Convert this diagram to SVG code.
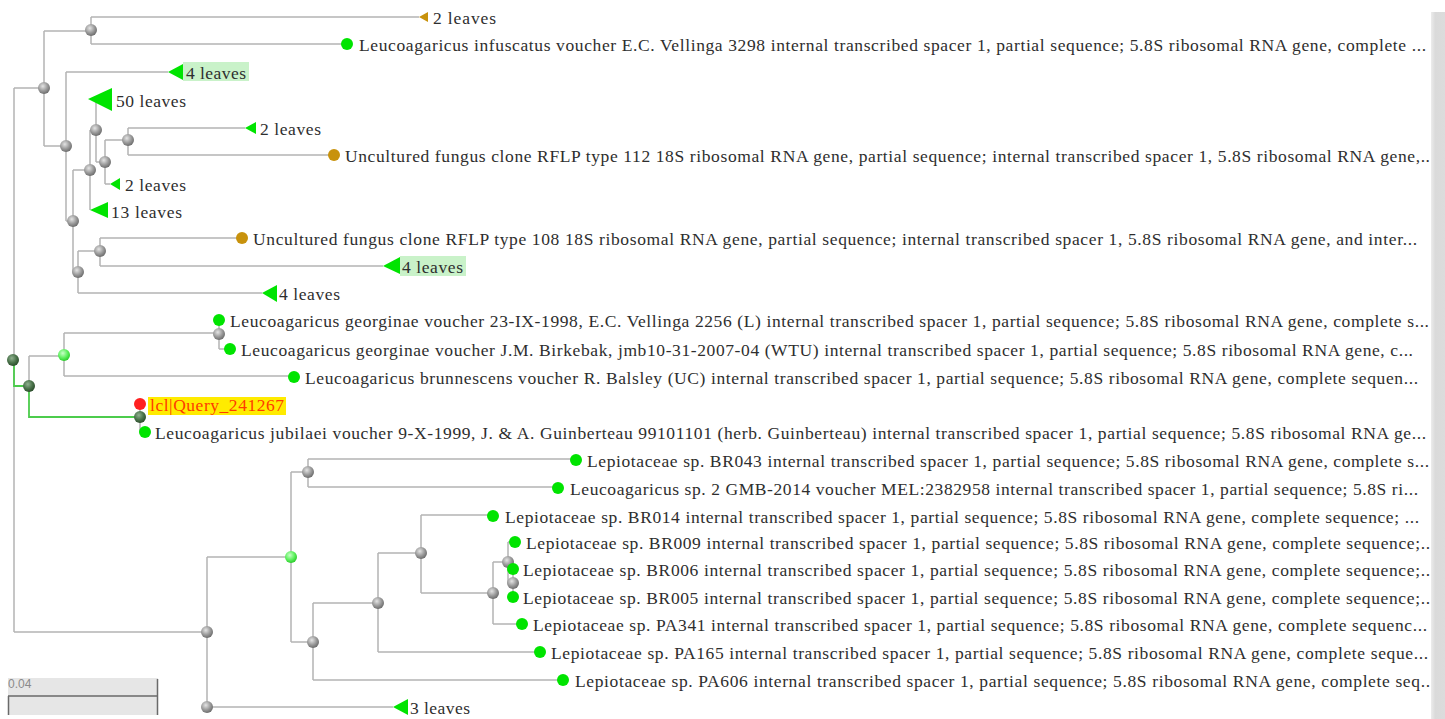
<svg xmlns="http://www.w3.org/2000/svg" width="1445" height="719" viewBox="0 0 1445 719">
<defs>
<radialGradient id="gGray" cx="40%" cy="35%" r="65%"><stop offset="0" stop-color="#e4e4e4"/><stop offset="0.6" stop-color="#9a9a9a"/><stop offset="1" stop-color="#6e6e6e"/></radialGradient>
<radialGradient id="gDark" cx="40%" cy="35%" r="65%"><stop offset="0" stop-color="#8fb08f"/><stop offset="0.6" stop-color="#4a724a"/><stop offset="1" stop-color="#2c4e2c"/></radialGradient>
<radialGradient id="gLight" cx="40%" cy="35%" r="65%"><stop offset="0" stop-color="#c8ffc8"/><stop offset="0.6" stop-color="#5ef05e"/><stop offset="1" stop-color="#2ccc2c"/></radialGradient>
<linearGradient id="gScroll" x1="0" x2="1" y1="0" y2="0"><stop offset="0" stop-color="#ececec"/><stop offset="0.3" stop-color="#dadada"/><stop offset="1" stop-color="#dcdcdc"/></linearGradient>
<style>
.ln{stroke:#b4b4b4;stroke-width:1.5;fill:none}
.gl{stroke:#4ccc4c;stroke-width:1.8;fill:none}
.lbl{font-family:"Liberation Serif","Times New Roman",serif;font-size:17.5px;fill:#2e2e2e}
.in{fill:url(#gGray)}
.dk{fill:url(#gDark)}
.lt{fill:url(#gLight)}
.lf{fill:#00e400}
.br{fill:#c8920c}
.hlg{fill:#c9f2c9}
</style>
</defs>
<rect x="0" y="0" width="1445" height="719" fill="#ffffff"/>
<rect x="1431" y="12" width="14" height="707" fill="url(#gScroll)"/>

<g id="connectors">
<path class="ln" d="M14 88 V632 M14 88 H44 M14 632 H207
M44 31 V146 M44 31 H91 M44 146 H66
M91 17 V44 M91 17 H419 M91 44 H346
M66 72 V221 M66 72 H168 M66 221 H73
M73 170 V272 M73 170 H90 M73 272 H78
M90 130 V210 M90 130 H96
M96 100 V162 M96 162 H105
M105 140 V184 M105 140 H128 M105 184 H110
M128 128 V155 M128 128 H245 M128 155 H333
M78 251 V293 M78 251 H100 M78 293 H262
M100 238 V266 M100 238 H242 M100 266 H383
M29 356 V386 M29 356 H64
M64 333 V376 M64 333 H219 M64 376 H294
M219 320 V349 M219 349 H230
M140 404 V432 M140 432 H145
M207 557 V707 M207 557 H291 M207 707 H393
M291 472 V642 M291 472 H308 M291 642 H313
M308 459 V487 M308 459 H576 M308 487 H557
M313 603 V680 M313 603 H378 M313 680 H563
M378 553 V652 M378 553 H421 M378 652 H540
M421 515 V593 M421 515 H493 M421 593 H493
M493 562 V624 M493 562 H508 M493 624 H522
M508 542 V583 M508 542 H514 M508 583 H513
M513 569 V597"/>
<path class="gl" d="M14 360 V386 H29 V417 H140"/>
</g>

<!-- internal nodes -->
<g id="node-root"><circle class="dk" cx="13" cy="360" r="6"/></g>
<g id="node-A"><circle class="in" cx="44" cy="88" r="6"/></g>
<g id="node-B"><circle class="in" cx="91" cy="30" r="6"/></g>
<g id="node-C"><circle class="in" cx="66" cy="146" r="6"/></g>
<g id="node-D"><circle class="in" cx="73" cy="221" r="6"/></g>
<g id="node-E"><circle class="in" cx="90" cy="170" r="6"/></g>
<g id="node-G"><circle class="in" cx="96" cy="130" r="6"/></g>
<g id="node-H"><circle class="in" cx="105" cy="162" r="6"/></g>
<g id="node-I"><circle class="in" cx="128" cy="140" r="6"/></g>
<g id="node-F"><circle class="in" cx="78" cy="272" r="6"/></g>
<g id="node-J"><circle class="in" cx="100" cy="251" r="6"/></g>
<g id="node-L"><circle class="dk" cx="29" cy="386" r="6"/></g>
<g id="node-M"><circle class="lt" cx="64" cy="355" r="6"/></g>
<g id="node-O"><circle class="in" cx="219" cy="334" r="6"/></g>
<g id="node-N"><circle class="dk" cx="140" cy="417" r="6"/></g>
<g id="node-K"><circle class="in" cx="207" cy="632" r="6"/></g>
<g id="node-K2"><circle class="in" cx="207" cy="707" r="6"/></g>
<g id="node-P"><circle class="lt" cx="291" cy="557" r="6"/></g>
<g id="node-Q"><circle class="in" cx="308" cy="472" r="6"/></g>
<g id="node-R"><circle class="in" cx="313" cy="642" r="6"/></g>
<g id="node-S"><circle class="in" cx="378" cy="603" r="6"/></g>
<g id="node-T"><circle class="in" cx="421" cy="553" r="6"/></g>
<g id="node-U"><circle class="in" cx="493" cy="593" r="6"/></g>
<g id="node-V"><circle class="in" cx="508" cy="562" r="6"/></g>
<g id="node-W"><circle class="in" cx="513" cy="583" r="6"/></g>

<!-- collapsed subtrees -->
<g id="leaf-2leaves-a"><polygon class="br" points="419,17 428,12 428,22"/><text class="lbl" x="433" y="24" textLength="63" lengthAdjust="spacing">2 leaves</text></g>
<g id="leaf-4leaves-a"><rect class="hlg" x="183" y="62" width="66" height="19"/><polygon class="lf" points="168,72 183,64 183,80"/><text class="lbl" x="186" y="79" textLength="60" lengthAdjust="spacing">4 leaves</text></g>
<g id="leaf-50leaves"><polygon class="lf" points="88,99 112,88 112,111"/><text class="lbl" x="116" y="107" textLength="70" lengthAdjust="spacing">50 leaves</text></g>
<g id="leaf-2leaves-b"><polygon class="lf" points="245,128 256,122 256,134"/><text class="lbl" x="260" y="135" textLength="61" lengthAdjust="spacing">2 leaves</text></g>
<g id="leaf-2leaves-c"><polygon class="lf" points="110,184 120,178 120,190"/><text class="lbl" x="125" y="191" textLength="61" lengthAdjust="spacing">2 leaves</text></g>
<g id="leaf-13leaves"><polygon class="lf" points="90,210 108,202 108,218"/><text class="lbl" x="111" y="218" textLength="71" lengthAdjust="spacing">13 leaves</text></g>
<g id="leaf-4leaves-b"><rect class="hlg" x="400" y="256" width="66" height="20"/><polygon class="lf" points="383,266 400,257 400,274"/><text class="lbl" x="402" y="273" textLength="61" lengthAdjust="spacing">4 leaves</text></g>
<g id="leaf-4leaves-c"><polygon class="lf" points="262,293 277,285 277,302"/><text class="lbl" x="279" y="300" textLength="61" lengthAdjust="spacing">4 leaves</text></g>
<g id="leaf-3leaves"><polygon class="lf" points="393,707 408,699 408,715"/><text class="lbl" x="410" y="714" textLength="60" lengthAdjust="spacing">3 leaves</text></g>

<!-- leaves -->
<g id="leaf-infuscatus"><circle class="lf" cx="347" cy="44" r="6"/><text class="lbl" x="359" y="51" textLength="1067" lengthAdjust="spacing">Leucoagaricus infuscatus voucher E.C. Vellinga 3298 internal transcribed spacer 1, partial sequence; 5.8S ribosomal RNA gene, complete ...</text></g>
<g id="leaf-unc112"><circle class="br" cx="334" cy="155" r="6"/><text class="lbl" x="345" y="162" textLength="1085" lengthAdjust="spacing">Uncultured fungus clone RFLP type 112 18S ribosomal RNA gene, partial sequence; internal transcribed spacer 1, 5.8S ribosomal RNA gene,..</text></g>
<g id="leaf-unc108"><circle class="br" cx="242" cy="238" r="6"/><text class="lbl" x="253" y="245" textLength="1164" lengthAdjust="spacing">Uncultured fungus clone RFLP type 108 18S ribosomal RNA gene, partial sequence; internal transcribed spacer 1, 5.8S ribosomal RNA gene, and inter...</text></g>
<g id="leaf-georginae1"><circle class="lf" cx="219" cy="320" r="6"/><text class="lbl" x="230" y="327" textLength="1199" lengthAdjust="spacing">Leucoagaricus georginae voucher 23-IX-1998, E.C. Vellinga 2256 (L) internal transcribed spacer 1, partial sequence; 5.8S ribosomal RNA gene, complete s...</text></g>
<g id="leaf-georginae2"><circle class="lf" cx="230" cy="349" r="6"/><text class="lbl" x="241" y="356" textLength="1172" lengthAdjust="spacing">Leucoagaricus georginae voucher J.M. Birkebak, jmb10-31-2007-04 (WTU) internal transcribed spacer 1, partial sequence; 5.8S ribosomal RNA gene, c...</text></g>
<g id="leaf-brunnescens"><circle class="lf" cx="294" cy="377" r="6"/><text class="lbl" x="305" y="384" textLength="1113" lengthAdjust="spacing">Leucoagaricus brunnescens voucher R. Balsley (UC) internal transcribed spacer 1, partial sequence; 5.8S ribosomal RNA gene, complete sequen...</text></g>
<g id="leaf-query"><rect x="148" y="397" width="138" height="18" fill="#ffeb00"/><circle cx="140" cy="404" r="6" fill="#ff2020"/><text class="lbl" x="150" y="411" style="fill:#ff3c00" textLength="134" lengthAdjust="spacing">lcl|Query_241267</text></g>
<g id="leaf-jubilaei"><circle class="lf" cx="145" cy="432" r="6"/><text class="lbl" x="155" y="439" textLength="1271" lengthAdjust="spacing">Leucoagaricus jubilaei voucher 9-X-1999, J. &amp; A. Guinberteau 99101101 (herb. Guinberteau) internal transcribed spacer 1, partial sequence; 5.8S ribosomal RNA ge...</text></g>
<g id="leaf-BR043"><circle class="lf" cx="576" cy="460" r="6"/><text class="lbl" x="587" y="467" textLength="842" lengthAdjust="spacing">Lepiotaceae sp. BR043 internal transcribed spacer 1, partial sequence; 5.8S ribosomal RNA gene, complete s...</text></g>
<g id="leaf-GMB"><circle class="lf" cx="558" cy="488" r="6"/><text class="lbl" x="570" y="495" textLength="848" lengthAdjust="spacing">Leucoagaricus sp. 2 GMB-2014 voucher MEL:2382958 internal transcribed spacer 1, partial sequence; 5.8S ri...</text></g>
<g id="leaf-BR014"><circle class="lf" cx="493" cy="516" r="6"/><text class="lbl" x="505" y="523" textLength="914" lengthAdjust="spacing">Lepiotaceae sp. BR014 internal transcribed spacer 1, partial sequence; 5.8S ribosomal RNA gene, complete sequence; ...</text></g>
<g id="leaf-BR009"><circle class="lf" cx="515" cy="542" r="6"/><text class="lbl" x="526" y="549" textLength="904" lengthAdjust="spacing">Lepiotaceae sp. BR009 internal transcribed spacer 1, partial sequence; 5.8S ribosomal RNA gene, complete sequence;..</text></g>
<g id="leaf-BR006"><circle class="lf" cx="513" cy="569" r="6"/><text class="lbl" x="523" y="576" textLength="907" lengthAdjust="spacing">Lepiotaceae sp. BR006 internal transcribed spacer 1, partial sequence; 5.8S ribosomal RNA gene, complete sequence;..</text></g>
<g id="leaf-BR005"><circle class="lf" cx="513" cy="597" r="6"/><text class="lbl" x="523" y="604" textLength="907" lengthAdjust="spacing">Lepiotaceae sp. BR005 internal transcribed spacer 1, partial sequence; 5.8S ribosomal RNA gene, complete sequence;..</text></g>
<g id="leaf-PA341"><circle class="lf" cx="522" cy="624" r="6"/><text class="lbl" x="533" y="631" textLength="894" lengthAdjust="spacing">Lepiotaceae sp. PA341 internal transcribed spacer 1, partial sequence; 5.8S ribosomal RNA gene, complete sequenc...</text></g>
<g id="leaf-PA165"><circle class="lf" cx="540" cy="652" r="6"/><text class="lbl" x="551" y="659" textLength="877" lengthAdjust="spacing">Lepiotaceae sp. PA165 internal transcribed spacer 1, partial sequence; 5.8S ribosomal RNA gene, complete seque...</text></g>
<g id="leaf-PA606"><circle class="lf" cx="563" cy="680" r="6"/><text class="lbl" x="575" y="687" textLength="855" lengthAdjust="spacing">Lepiotaceae sp. PA606 internal transcribed spacer 1, partial sequence; 5.8S ribosomal RNA gene, complete seq..</text></g>

<!-- scale bar -->
<g id="scale-bar">
<rect x="8" y="678" width="150" height="37" fill="#e6e6e6"/>
<path d="M8 696 H157.5 M157.5 679 V715 M8.5 696 V715" stroke="#6a6a6a" stroke-width="1.5" fill="none"/>
<text x="8" y="688" font-family="'Liberation Sans',Arial,sans-serif" font-size="12" fill="#8a8a8a">0.04</text>
</g>
</svg>
